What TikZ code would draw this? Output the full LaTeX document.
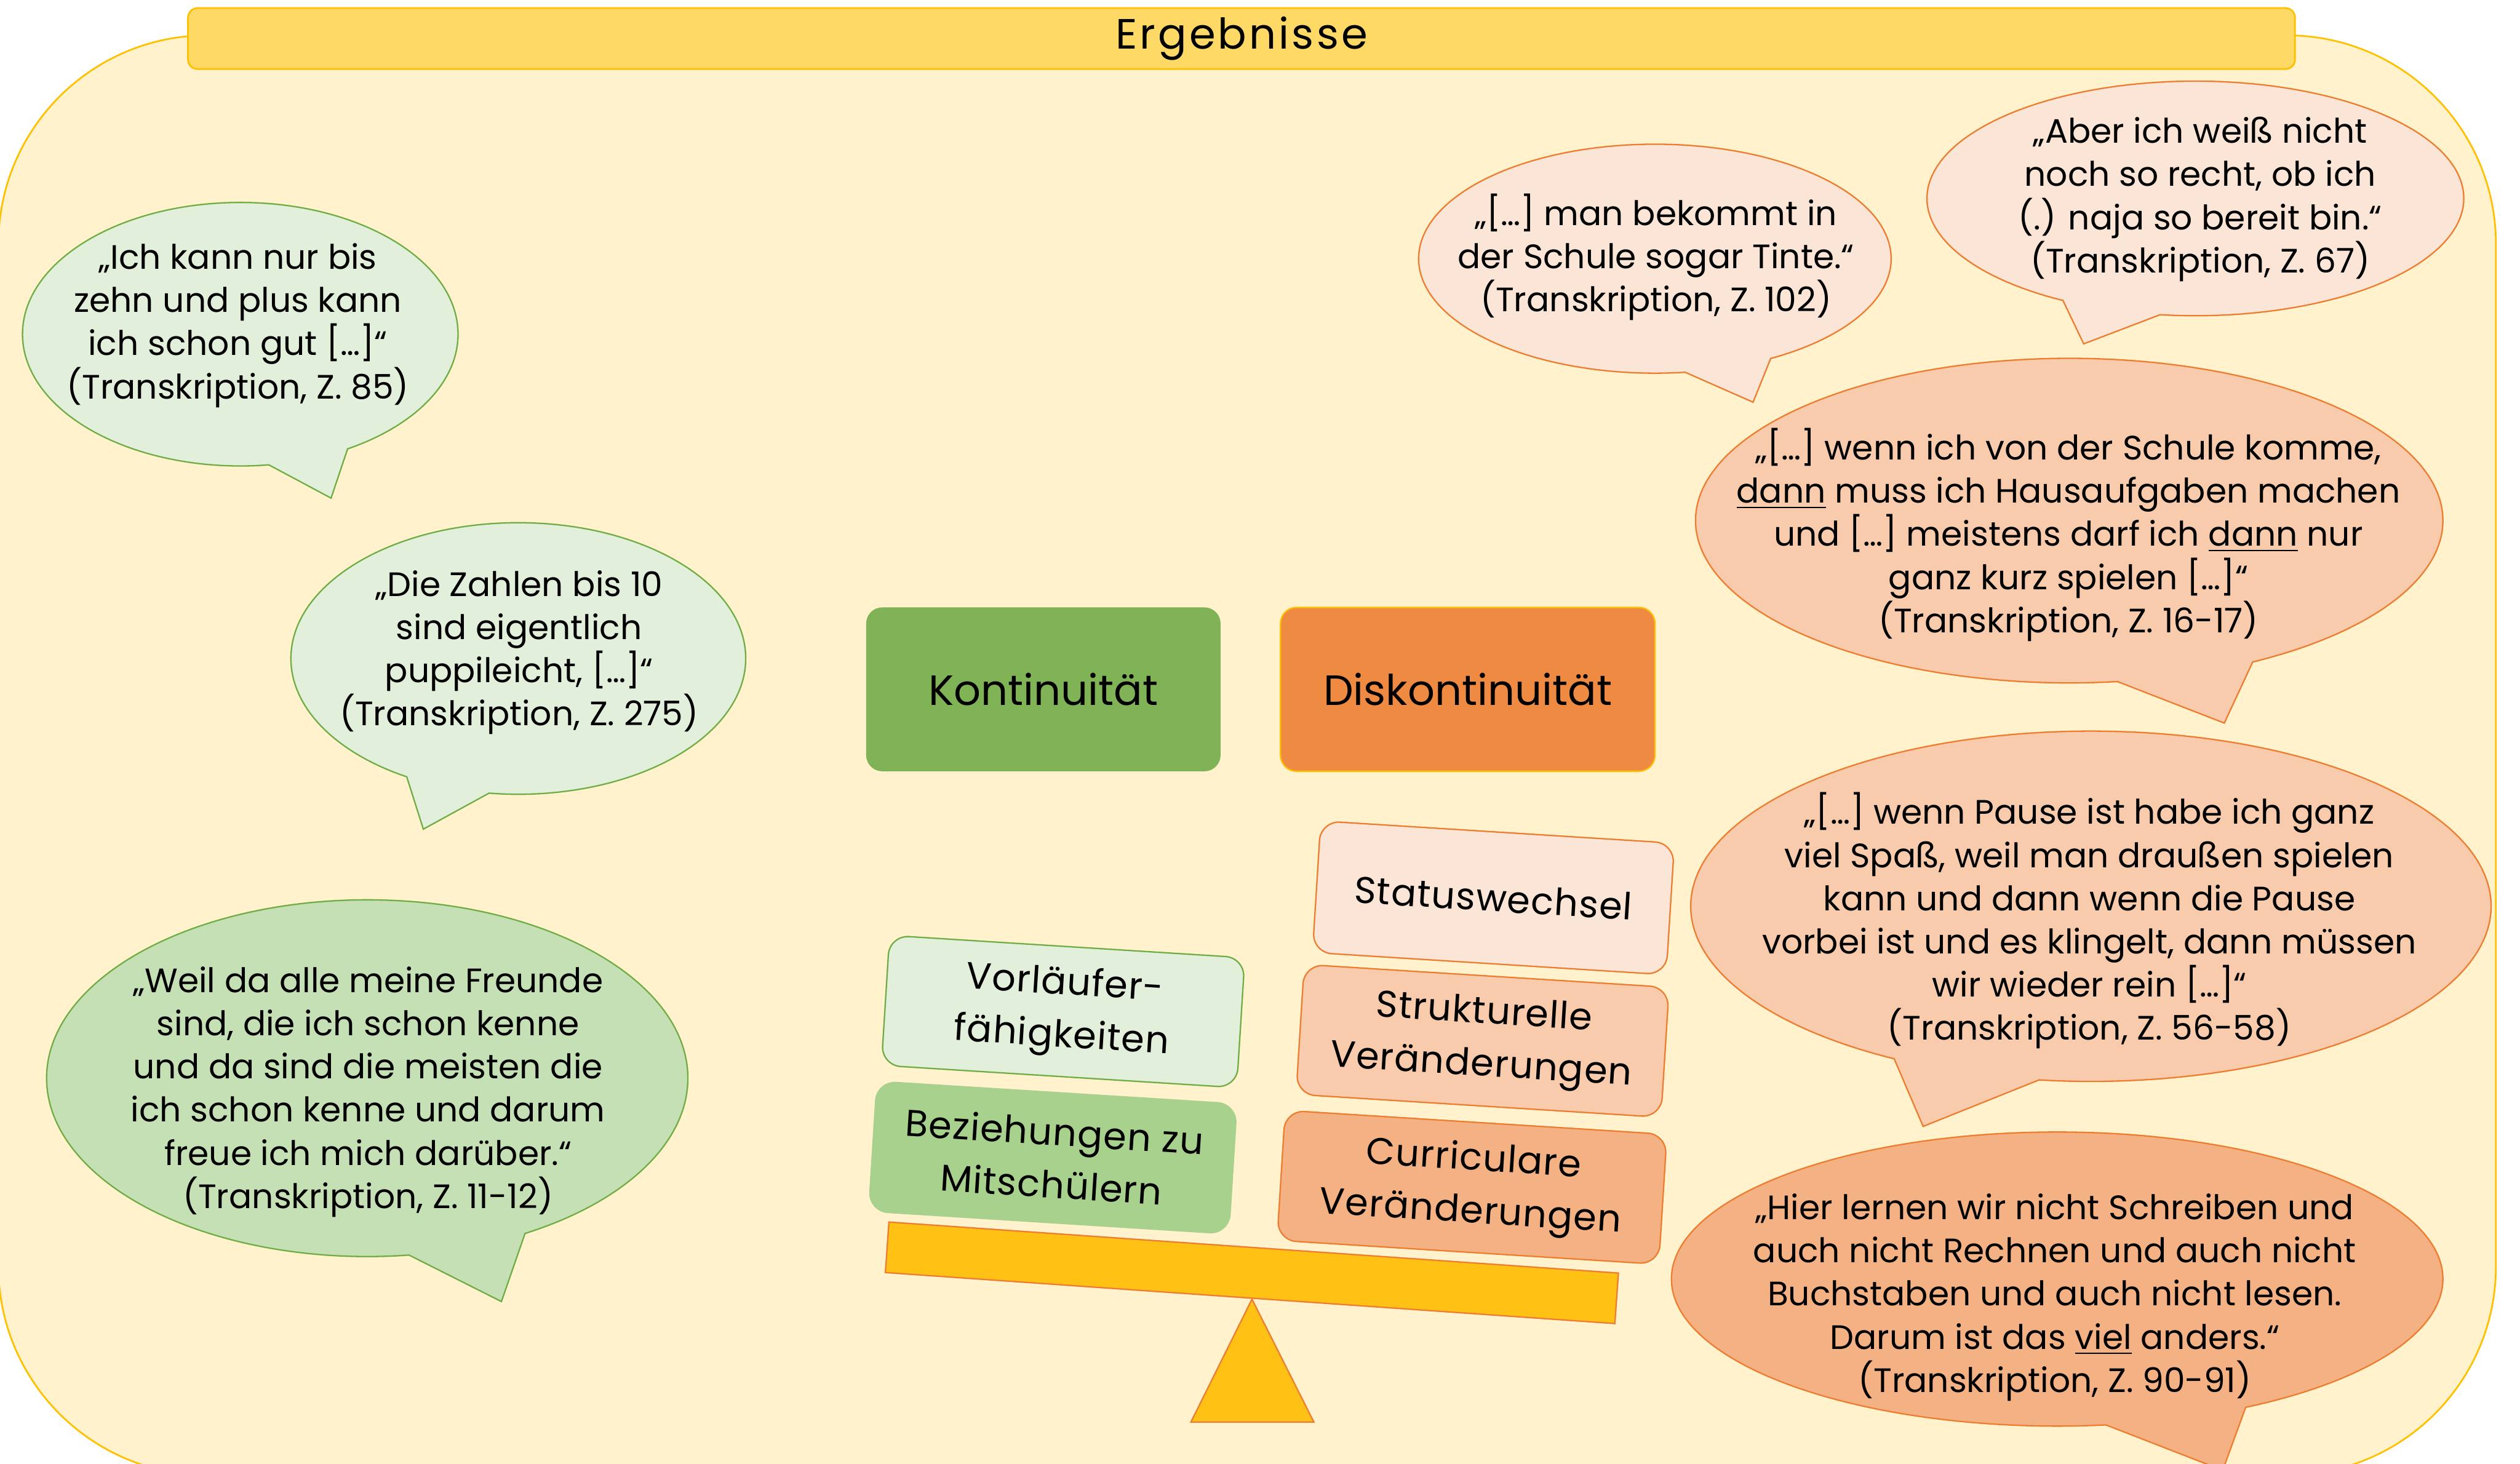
\documentclass[tikz,border=0pt]{standalone}
\usepackage{fontspec}
\setmainfont{Poppins}
\usepackage{tikz}
\usetikzlibrary{shapes.callouts, positioning}
\definecolor{colorPanel}{HTML}{FFF2CC}
\definecolor{colorPanelBorder}{HTML}{FFC000}
\definecolor{colorTitle}{HTML}{FFD966}
\definecolor{colorGreen}{HTML}{70AD47}
\definecolor{colorKont}{HTML}{7FB355}
\definecolor{colorDiskont}{HTML}{EE8A42}
\definecolor{colorGreenLight}{HTML}{E2EFDA}
\definecolor{colorGreenMid}{HTML}{C5E0B4}
\definecolor{colorGreenDark}{HTML}{A9D18E}
\definecolor{colorOrange}{HTML}{ED7D31}
\definecolor{colorOrangeLight}{HTML}{FBE5D6}
\definecolor{colorOrangeMid}{HTML}{F8CBAD}
\definecolor{colorOrangeDark}{HTML}{F4B183}
\definecolor{colorScale}{HTML}{FFC214}
\tikzset{
  bubble/.style={ellipse callout, callout pointer arc=22, line width=0.5pt, inner sep=0pt},
  greenbubble/.style={bubble, draw=colorGreen},
  orangebubble/.style={bubble, draw=colorOrange},
  quote/.style={align=center, inner sep=0pt, font=\fontsize{12}{15.3}\selectfont},
  card/.style={rounded corners=2.4mm, line width=0.5pt, rotate=-3.6, minimum height=16.2mm, align=center, inner sep=0pt, font=\fontsize{13.2}{18.6}\selectfont\addfontfeature{LetterSpace=2}},
}

\begin{document}
\begin{tikzpicture}[x=0.2mm, y=-0.2mm]
\useasboundingbox (0,0) rectangle (1568,911);
\clip (0,0) rectangle (1568,911);
% panel and title
\draw[colorPanelBorder, fill=colorPanel, line width=0.6pt, rounded corners=26mm] (-1,22) rectangle (1553,918);
\node[draw=colorPanelBorder, fill=colorTitle, line width=0.6pt, rounded corners=1.2mm, minimum width=262.2mm, minimum height=7.6mm, inner sep=0pt, font=\fontsize{15}{16}\selectfont\addfontfeature{LetterSpace=6}] (title) at (772.5,24) {\raisebox{-1.6pt}{Ergebnisse}};

% Kontinuitaet / Diskontinuitaet
\node[fill=colorKont, rounded corners=2mm, minimum width=44.1mm, minimum height=20.4mm, font=\fontsize{15}{16}\selectfont] (kont) at (649.2,429) {Kontinuität};
\node[draw=colorPanelBorder, fill=colorDiskont, line width=0.5pt, rounded corners=2mm, minimum width=46.6mm, minimum height=20.4mm, font=\fontsize{15}{16}\selectfont, right=7.3mm of kont] (diskont) {Diskontinuität};

% scale
\node[draw=colorOrange, fill=colorScale, line width=0.5pt, rotate=-4, minimum width=91mm, minimum height=6.3mm] (beam) at (778.95,792.1) {};
\draw[colorOrange, fill=colorScale, line width=0.5pt] (741,885) -- (779,808.5) -- (817.5,885) -- cycle;

% cards
\node[card, draw=colorGreen, fill=colorGreenLight, minimum width=44.3mm] (vorl) at (661.5,629.5) {Vorläufer-\\fähigkeiten};
\node[card, draw=colorGreenDark, fill=colorGreenDark, minimum width=44.9mm] (bez) at (655.1,720.4) {Beziehungen zu\\Mitschülern};
\node[card, draw=colorOrange, fill=colorOrangeLight, minimum width=44.1mm, minimum height=16.4mm] (status) at (929.25,558.75) {Statuswechsel};
\node[card, draw=colorOrange, fill=colorOrangeMid, minimum width=45.5mm] (strukt) at (922.5,647.75) {Strukturelle\\Veränderungen};
\node[card, draw=colorOrange, fill=colorOrangeDark, minimum width=47.6mm] (curr) at (915.9,738.9) {Curriculare\\Veränderungen};

% green quotes
\node[greenbubble, fill=colorGreenLight, minimum width=54.2mm, minimum height=32.8mm, callout absolute pointer={(206,310)}] (q85) at (149.5,208) {};
\node[quote] (q85text) at (148,202.5) {„Ich kann nur bis\\zehn und plus kann\\ich schon gut […]“\\(Transkription, Z. 85)};
\node[greenbubble, fill=colorGreenLight, minimum width=56.6mm, minimum height=33.8mm, callout absolute pointer={(263.4,516)}] (q275) at (322.5,409.8) {};
\node[quote] (q275text) at (323,406) {„Die Zahlen bis 10\\sind eigentlich\\puppileicht, […]“\\(Transkription, Z. 275)};
\node[greenbubble, fill=colorGreenMid, minimum width=79.8mm, minimum height=44.4mm, callout absolute pointer={(312,810)}] (q11) at (228.5,671) {};
\node[quote] (q11text) at (229,679.5) {„Weil da alle meine Freunde\\sind, die ich schon kenne\\und da sind die meisten die\\ich schon kenne und darum\\freue ich mich darüber.“\\(Transkription, Z. 11-12)};

% orange quotes
\node[orangebubble, fill=colorOrangeLight, minimum width=58.8mm, minimum height=28.5mm, callout absolute pointer={(1090.8,250.3)}] (q102) at (1029.7,161) {};
\node[quote] (q102text) at (1030.4,160) {„[…] man bekommt in\\der Schule sogar Tinte.“\\(Transkription, Z. 102)};
\node[orangebubble, fill=colorOrangeLight, minimum width=66.8mm, minimum height=29.2mm, callout absolute pointer={(1296.5,214)}] (q67) at (1366,123.5) {};
\node[quote] (q67text) at (1369,124) {„Aber ich weiß nicht\\noch so recht, ob ich\\(.) naja so bereit bin.“\\(Transkription, Z. 67)};
\node[orangebubble, fill=colorOrangeMid, minimum width=93mm, minimum height=40.4mm, callout absolute pointer={(1384,450)}] (q16) at (1287.5,324) {};
\node[quote] (q16text) at (1287,332.8) {„[…] wenn ich von der Schule komme,\\\underline{dann} muss ich Hausaufgaben machen\\und […] meistens darf ich \underline{dann} nur\\ganz kurz spielen […]“\\(Transkription, Z. 16-17)};
\node[orangebubble, fill=colorOrangeMid, minimum width=99.6mm, minimum height=43.6mm, callout absolute pointer={(1196.6,701)}] (q56) at (1301,564) {};
\node[quote] (q56text) at (1300,573) {„[…] wenn Pause ist habe ich ganz\\viel Spaß, weil man draußen spielen\\kann und dann wenn die Pause\\vorbei ist und es klingelt, dann müssen\\wir wieder rein […]“\\(Transkription, Z. 56-58)};
\node[orangebubble, fill=colorOrangeDark, minimum width=96mm, minimum height=36.6mm, callout absolute pointer={(1383,915)}] (q90) at (1280,796) {};
\node[quote] (q90text) at (1278.5,807.4) {„Hier lernen wir nicht Schreiben und\\auch nicht Rechnen und auch nicht\\Buchstaben und auch nicht lesen.\\Darum ist das \underline{viel} anders.“\\(Transkription, Z. 90-91)};
\end{tikzpicture}
\end{document}
